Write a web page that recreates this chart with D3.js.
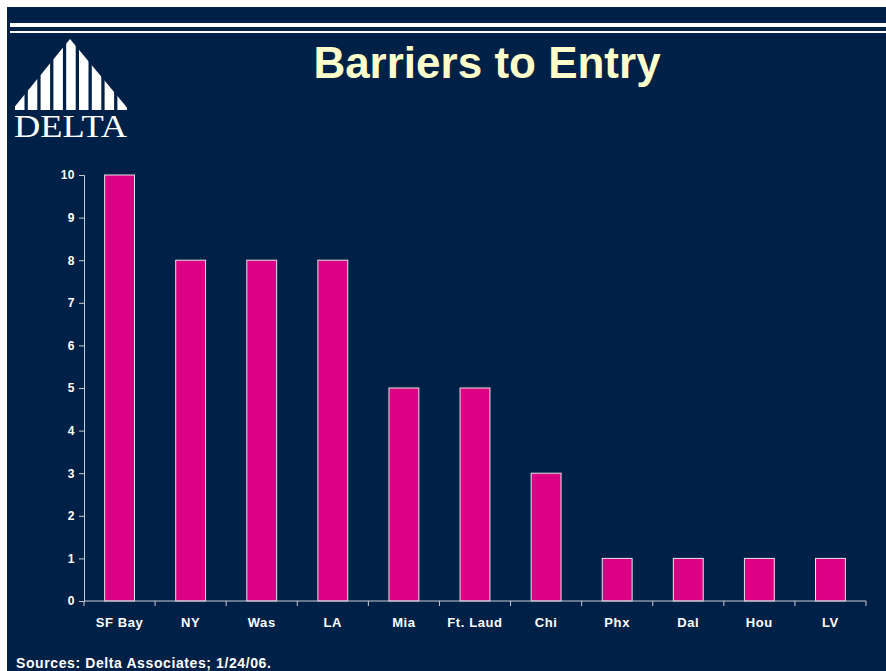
<!DOCTYPE html>
<html><head><meta charset="utf-8">
<script src="https://cdn.jsdelivr.net/npm/d3@7"></script>
<style>body{margin:0;background:#fff}svg{display:block}</style>
</head><body>
<script>
const categories = ["SF Bay","NY","Was","LA","Mia","Ft. Laud","Chi","Phx","Dal","Hou","LV"];
const values = [10,8,8,8,5,5,3,1,1,1,1];
const yTicks = [0,1,2,3,4,5,6,7,8,9,10];
const title = "Barriers to Entry";
const source = "Sources: Delta Associates; 1/24/06.";

const W=886,H=671;
const FONT="Liberation Sans, Arial, sans-serif";
const svg=d3.select("body").append("svg").attr("width",W).attr("height",H);
svg.append("rect").attr("x",7).attr("y",7).attr("width",W-7).attr("height",H-7).attr("fill","#002147");
svg.append("rect").attr("x",10).attr("y",23).attr("width",W-10).attr("height",4).attr("fill","#ffffff");
svg.append("rect").attr("x",10).attr("y",31).attr("width",W-10).attr("height",2).attr("fill","#ffffff");

// logo
const logo=svg.append("g");
const defs=svg.append("defs");
defs.append("clipPath").attr("id","tri").append("path").attr("d","M12,110 L70,39 L129,110 Z");
const lg=logo.append("g").attr("clip-path","url(#tri)");
for(let i=0;i<9;i++){
  lg.append("rect").attr("x",15+i*12.8).attr("y",37).attr("width",9.5).attr("height",75).attr("fill","#fff");
}
logo.append("text").attr("x",14).attr("y",137)
  .attr("font-family","Liberation Serif, serif").attr("font-size",32).attr("fill","#fff")
  .attr("textLength",113).attr("lengthAdjust","spacingAndGlyphs").text("DELTA");

svg.append("text").attr("x",487).attr("y",78).attr("text-anchor","middle")
  .attr("font-family",FONT).attr("font-weight","bold")
  .attr("font-size",44).attr("fill","#FFFFCC").text(title);

const x=d3.scaleBand().domain(categories).range([84,866]).paddingInner(0.58).paddingOuter(0.29);
const y=d3.scaleLinear().domain([0,10]).range([601,175]);

const g=svg.append("g");
g.selectAll("rect.bar").data(values).join("rect").attr("class","bar")
  .attr("x",(d,i)=>x(categories[i])).attr("width",x.bandwidth())
  .attr("y",d=>y(d)).attr("height",d=>y(0)-y(d))
  .attr("fill","#DC0084").attr("stroke","#e6e6e6").attr("stroke-width",1);

const axc="#c8ccd4";
const ya=svg.append("g").attr("transform","translate(84,0)")
  .call(d3.axisLeft(y).tickValues(yTicks).tickSize(5).tickPadding(4));
ya.select(".domain").attr("stroke",axc);
ya.selectAll(".tick line").attr("stroke",axc);
ya.selectAll("text").attr("fill","#fff").attr("font-family",FONT)
  .attr("font-weight","bold").attr("font-size",12).attr("letter-spacing",0.5);

// x axis line and ticks between bands
svg.append("line").attr("x1",84).attr("x2",866).attr("y1",601).attr("y2",601).attr("stroke",axc);
const bounds=d3.range(categories.length+1).map(i=>84+i*(782/categories.length));
svg.selectAll("line.xt").data(bounds).join("line").attr("class","xt")
  .attr("x1",d=>d).attr("x2",d=>d).attr("y1",601).attr("y2",606).attr("stroke",axc);
svg.selectAll("text.xl").data(categories).join("text").attr("class","xl")
  .attr("x",d=>x(d)+x.bandwidth()/2).attr("y",627).attr("text-anchor","middle")
  .attr("fill","#fff").attr("font-family",FONT)
  .attr("font-weight","bold").attr("font-size",13).attr("letter-spacing",0.6).text(d=>d);

svg.append("text").attr("x",16).attr("y",668).attr("fill","#fff")
  .attr("font-family",FONT).attr("font-weight","bold")
  .attr("font-size",14).attr("letter-spacing",0.6).text(source);
</script>
</body></html>
